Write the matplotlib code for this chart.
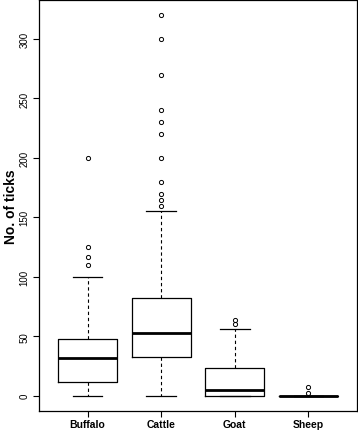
import matplotlib
matplotlib.use("Agg")
import matplotlib.pyplot as plt

plt.rcParams['font.family'] = ['Liberation Sans', 'DejaVu Sans']

species = ["Buffalo", "Cattle", "Goat", "Sheep"]
q1 = [12, 33, 0, 0]
median = [32, 53, 5, 0]
q3 = [48, 82, 23, 0]
whisker_low = [0, 0, 0, 0]
whisker_high = [100, 155, 56, 0]
outliers = [
    [110, 117, 125, 200],
    [160, 165, 170, 180, 200, 220, 230, 240, 270, 300, 320],
    [60, 64],
    [2, 7],
]

stats = []
for i, name in enumerate(species):
    stats.append({
        "label": name,
        "q1": q1[i], "med": median[i], "q3": q3[i],
        "whislo": whisker_low[i], "whishi": whisker_high[i],
        "fliers": outliers[i],
    })

fig = plt.figure(figsize=(3.58, 4.31), dpi=100)
ax = fig.add_axes([39 / 358, 19 / 431, 318 / 358, 411 / 431])

ax.bxp(
    stats,
    positions=[1, 2, 3, 4],
    widths=0.8,
    showfliers=True,
    boxprops=dict(color="black", linewidth=0.9),
    medianprops=dict(color="black", linewidth=2.0, solid_capstyle="butt"),
    whiskerprops=dict(color="black", linewidth=0.8, linestyle=(0, (3, 2.5))),
    capprops=dict(color="black", linewidth=0.9),
    flierprops=dict(marker="o", markersize=3.0, markerfacecolor="none",
                    markeredgecolor="black", markeredgewidth=0.7),
    capwidths=0.4,
)

ax.set_xlim(0.34, 4.66)
ax.set_ylim(-12.8, 332.8)
ax.set_yticks(range(0, 301, 50))
ax.set_yticklabels([str(v) for v in range(0, 301, 50)], rotation=90,
                   va="center", fontsize=7)
ax.set_xticks([1, 2, 3, 4])
ax.set_xticklabels(species, fontsize=7.5, fontweight="bold")
ax.tick_params(axis="both", length=4, width=0.8, color="black")
ax.tick_params(axis="y", pad=3)
ax.tick_params(axis="x", pad=2)
ax.set_ylabel("No. of ticks", fontsize=10, fontweight="bold", labelpad=1)
for s in ax.spines.values():
    s.set_linewidth(0.9)

fig.savefig("out.png", dpi=100)
